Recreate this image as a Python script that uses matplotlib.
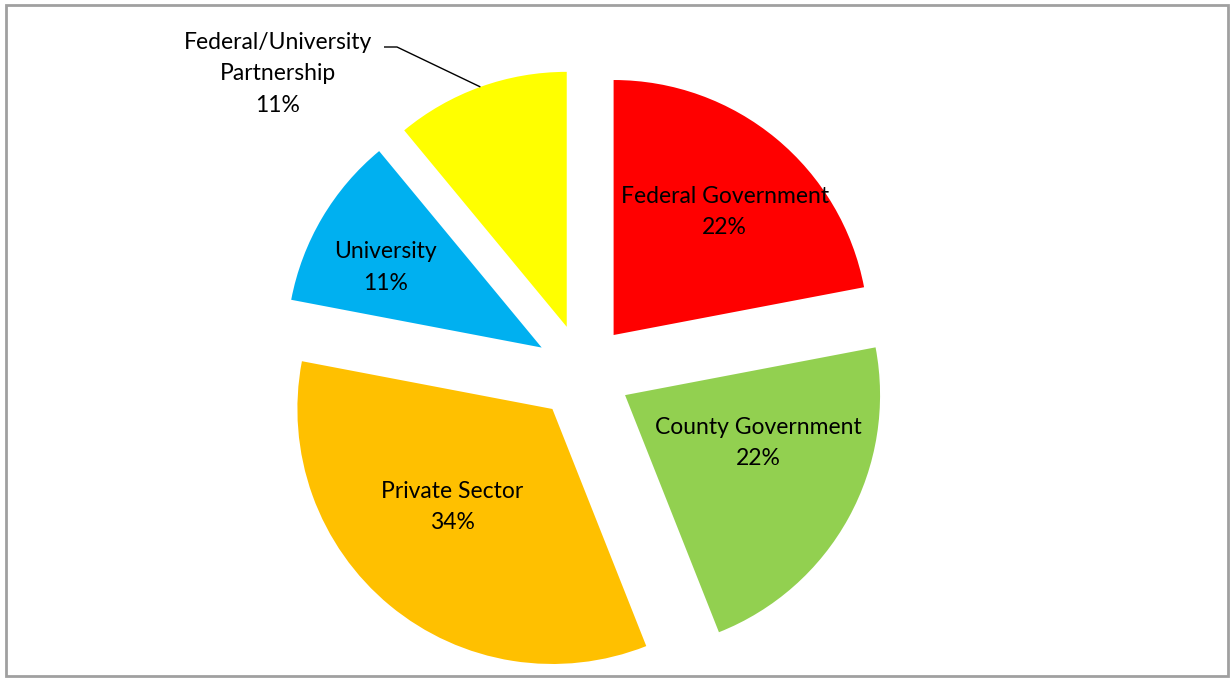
import matplotlib as mpl
mpl.use('Agg')
import matplotlib.pyplot as plt
from matplotlib.patches import Rectangle
import numpy as np

# slice data (clockwise from 12 o'clock)
labels = ['Federal Government', 'County Government', 'Private Sector',
          'University', 'Federal/University\nPartnership']
shares = [22, 22, 34, 11, 11]
colors = ['#FF0000', '#92D050', '#FFC000', '#00B0F0', '#FFFF00']

plt.rcParams['font.family'] = ['Lato', 'DejaVu Sans']

fig = plt.figure(figsize=(12.31, 6.79), dpi=100)
ax = fig.add_axes([0, 0, 1, 1])

cx, cy, R = 583, 307, 255
# pie explode is in data units here, not a fraction of radius
wedges, _ = ax.pie(shares, colors=colors, startangle=90, counterclock=False,
                   explode=[48] * 5, center=(cx, cy), radius=R,
                   wedgeprops=dict(linewidth=0), frame=True)
ax.set_xlim(0, 1231)
ax.set_ylim(0, 679)
ax.set_aspect('equal')
ax.axis('off')

# label placement inside each wedge: (fraction of radius, angle offset in deg)
label_pos = [(0.65, -2.5), (0.555, 9), (0.55, -6), (0.69, 3.5)]
for w, lab, s, (f, da) in zip(wedges, labels, shares, label_pos):
    a = np.deg2rad((w.theta1 + w.theta2) / 2 + da)
    x = w.center[0] + f * R * np.cos(a)
    y = w.center[1] + f * R * np.sin(a)
    ax.text(x, y, f'{lab}\n{s}%', ha='center', va='center', fontsize=16.5,
            linespacing=1.62, color='black')

# outside label with leader line for the small yellow slice
w = wedges[4]
a = np.deg2rad((w.theta1 + w.theta2) / 2)
px = w.center[0] + R * np.cos(a)
py = w.center[1] + R * np.sin(a)
ax.plot([px, 397, 384], [py, 632, 632], color='black', lw=1.0,
        solid_capstyle='butt')
ax.text(278, 605, f'{labels[4]}\n{shares[4]}%', ha='center', va='center',
        fontsize=16.5, linespacing=1.62, color='black')

# chart frame
fig.patches.append(Rectangle((6 / 1231, 3 / 679), 1222 / 1231, 671 / 679,
                             transform=fig.transFigure, fill=False,
                             edgecolor='#A0A0A0', linewidth=2))

fig.savefig('out.png', dpi=100)
